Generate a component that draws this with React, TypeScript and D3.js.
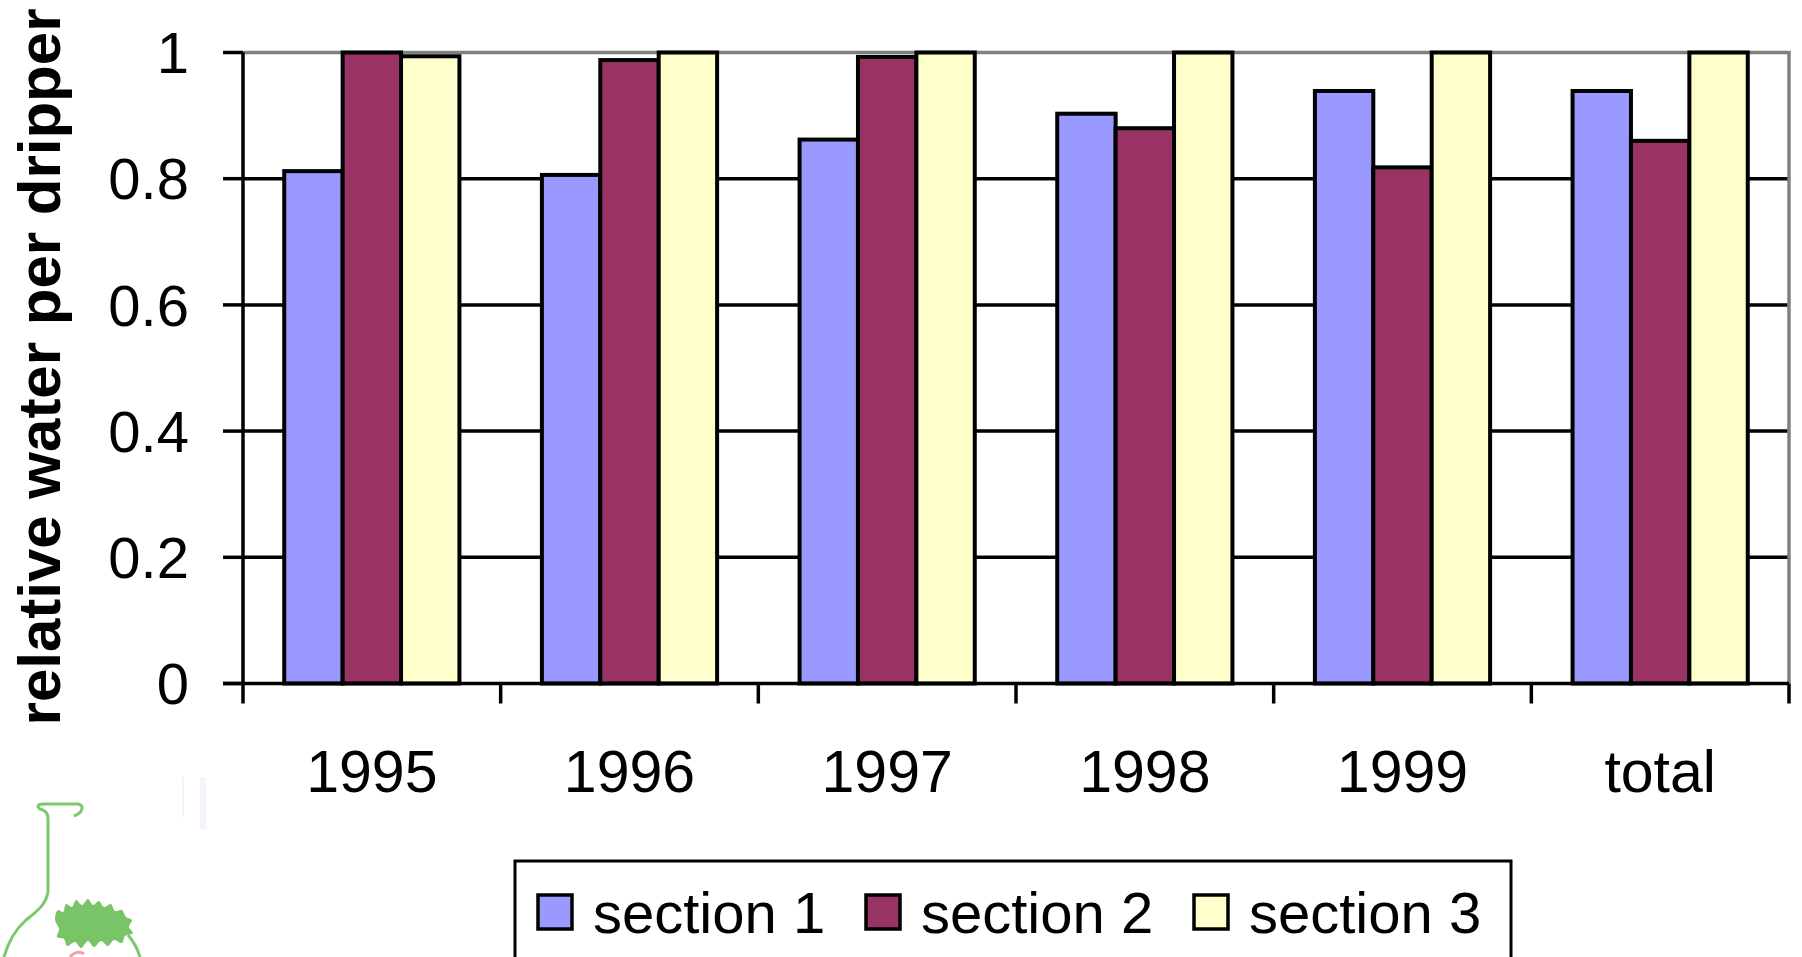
import React from "react";
import * as d3 from "d3";

// Relative water delivered per dripper, by year and section
const categories = ["1995", "1996", "1997", "1998", "1999", "total"];
const seriesNames = ["section 1", "section 2", "section 3"];
const section1 = [0.812, 0.806, 0.862, 0.903, 0.939, 0.939];
const section2 = [1.0, 0.988, 0.993, 0.88, 0.818, 0.86];
const section3 = [0.994, 1.0, 1.0, 1.0, 1.0, 1.0];
const seriesValues = [section1, section2, section3];
const seriesColors = ["#9999FF", "#993366", "#FFFFCC"];
const yTicks = [0, 0.2, 0.4, 0.6, 0.8, 1];

const W = 1802;
const H = 957;
const plot = { left: 243, right: 1789, top: 52.5, bottom: 683.5 };
const FONT = "'Liberation Sans', Arial, Helvetica, sans-serif";

// leaf cluster outline for the small flask emblem
const leafPoints: [number, number][] = [
  [55, 920], [58, 910], [63, 912], [66, 904], [72, 907], [76, 900], [82, 905],
  [88, 899], [93, 905], [99, 901], [104, 907], [111, 904], [115, 911], [122, 910],
  [126, 917], [132, 920], [129, 927], [133, 933], [125, 936], [122, 943], [114, 940],
  [108, 946], [101, 941], [94, 947], [88, 941], [81, 948], [75, 942], [67, 946],
  [64, 939], [57, 937], [59, 929],
];

export default function App() {
  const x0 = d3
    .scaleBand<string>()
    .domain(categories)
    .range([plot.left, plot.right])
    .padding(0);
  const band = x0.bandwidth();
  const groupW = band * 0.68;
  const x1 = d3
    .scaleBand<string>()
    .domain(seriesNames)
    .range([(band - groupW) / 2, (band + groupW) / 2])
    .padding(0);
  const y = d3.scaleLinear().domain([0, 1]).range([plot.bottom, plot.top]);

  const tickFont = 58;
  const capHalf = tickFont * 0.716 * 0.5;

  const boundaries = [...categories.map((c) => x0(c) as number), plot.right];
  const leafPath = d3.line().curve(d3.curveCatmullRomClosed)(leafPoints) as string;

  return (
    <svg
      width={W}
      height={H}
      viewBox={`0 0 ${W} ${H}`}
      style={{ position: "absolute", left: 0, top: 0, background: "#fff" }}
      fontFamily={FONT}
    >
      <rect x={0} y={0} width={W} height={H} fill="#fff" />

      {/* emblem: flask with leaves */}
      <g>
        <rect x={200} y={777} width={6} height={52} fill="#f2f6fc" />
        <rect x={182} y={777} width={2} height={40} fill="#f2f4f8" />
        <path
          d="M48,892 L48,818 C48,812 44,810 40,809 C36,806 38,804 44,804 L78,804 C84,805 84,812 74,816"
          fill="none"
          stroke="#7cc86c"
          strokeWidth={3}
        />
        <path
          d="M48,892 C46,905 36,912 26,920 C15,930 8,942 4,957"
          fill="none"
          stroke="#7cc86c"
          strokeWidth={3}
        />
        <path d="M128,935 C134,942 138,950 140,957" fill="none" stroke="#7cc86c" strokeWidth={3} />
        <path d={leafPath} fill="#78c466" />
        <path d="M70,957 C74,952 80,951 84,954" fill="none" stroke="#f4a0a8" strokeWidth={3} />
      </g>

      {/* horizontal gridlines */}
      {yTicks
        .filter((t) => t > 0 && t < 1)
        .map((t) => (
          <line
            key={`g${t}`}
            x1={plot.left}
            x2={plot.right}
            y1={y(t)}
            y2={y(t)}
            stroke="#000"
            strokeWidth={3.5}
          />
        ))}

      {/* plot area border (top and right) */}
      <path
        d={`M${plot.left},${plot.top} L${plot.right},${plot.top} L${plot.right},${plot.bottom}`}
        fill="none"
        stroke="#808080"
        strokeWidth={3.5}
      />

      {/* bars */}
      {categories.map((c, i) => (
        <g key={c} transform={`translate(${x0(c)},0)`}>
          {seriesNames.map((s, j) => {
            const v = seriesValues[j][i];
            return (
              <rect
                key={s}
                x={x1(s) as number}
                y={y(v)}
                width={x1.bandwidth()}
                height={y(0) - y(v)}
                fill={seriesColors[j]}
                stroke="#000"
                strokeWidth={4}
              />
            );
          })}
        </g>
      ))}

      {/* axes */}
      <line x1={plot.left} x2={plot.left} y1={plot.top} y2={plot.bottom} stroke="#000" strokeWidth={3.5} />
      <line x1={plot.left - 20} x2={plot.right} y1={plot.bottom} y2={plot.bottom} stroke="#000" strokeWidth={3.5} />
      {yTicks.map((t) => (
        <g key={`yt${t}`}>
          <line x1={plot.left - 20} x2={plot.left} y1={y(t)} y2={y(t)} stroke="#000" strokeWidth={3.5} />
          <text
            x={189}
            y={y(t) + capHalf}
            textAnchor="end"
            fontSize={tickFont}
            fill="#000"
          >
            {d3.format("~g")(t)}
          </text>
        </g>
      ))}
      {boundaries.map((bx, i) => (
        <line key={`xt${i}`} x1={bx} x2={bx} y1={plot.bottom} y2={plot.bottom + 20} stroke="#000" strokeWidth={3.5} />
      ))}
      {categories.map((c) => (
        <text
          key={`xl${c}`}
          x={(x0(c) as number) + band / 2}
          y={792}
          textAnchor="middle"
          fontSize={59}
          fill="#000"
        >
          {c}
        </text>
      ))}

      {/* y axis title */}
      <text
        transform="translate(60,367) rotate(-90)"
        textAnchor="middle"
        fontSize={60}
        fontWeight="bold"
        fill="#000"
      >
        relative water per dripper
      </text>

      {/* legend */}
      <rect x={515} y={861} width={996} height={120} fill="#fff" stroke="#000" strokeWidth={3} />
      {seriesNames.map((s, j) => (
        <g key={`lg${s}`} transform={`translate(${538 + j * 328},0)`}>
          <rect x={0} y={895} width={34} height={34} fill={seriesColors[j]} stroke="#000" strokeWidth={3.5} />
          <text x={55} y={933} fontSize={58} fill="#000">
            {s}
          </text>
        </g>
      ))}
    </svg>
  );
}
